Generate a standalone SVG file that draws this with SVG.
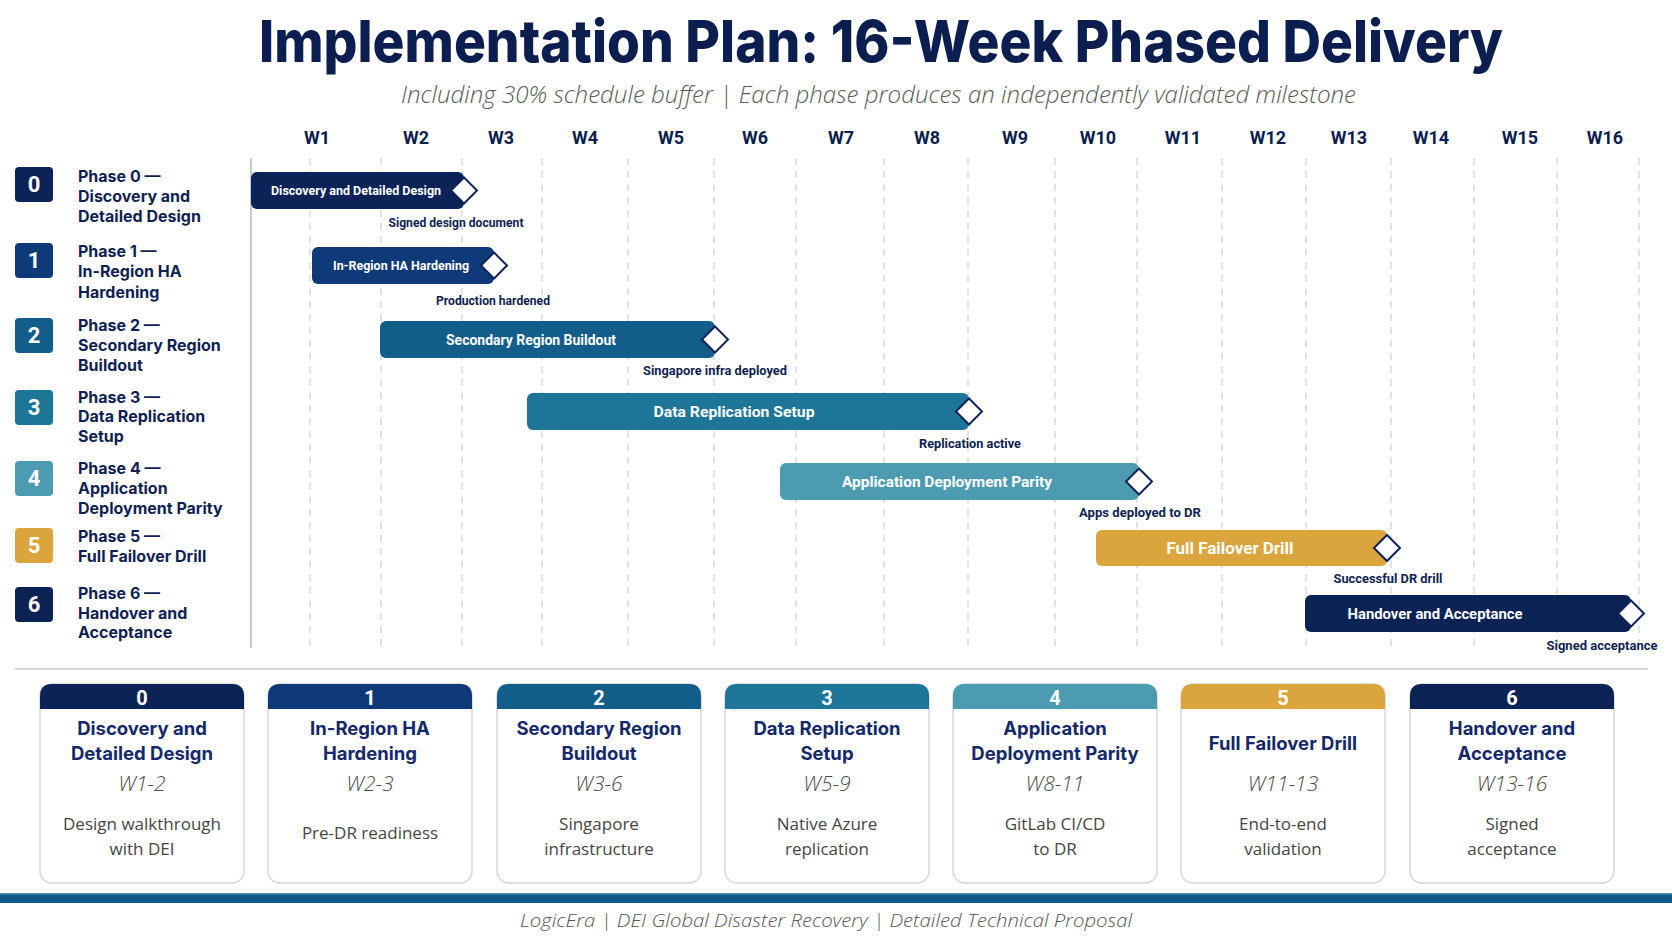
<svg xmlns="http://www.w3.org/2000/svg" width="1672" height="941" viewBox="0 0 1672 941">
<style>
.title{font-family:Inter,Roboto,"Liberation Sans",sans-serif;font-weight:800;font-size:58px;fill:#0c1e4f}
.sub{font-family:"Open Sans","Liberation Sans",sans-serif;font-style:italic;font-weight:300;font-size:24px;fill:#5a5a5a}
.wk{font-family:Roboto,"Liberation Sans",sans-serif;font-weight:700;font-size:18px;fill:#0c1e4f;text-anchor:middle}
.ph{font-family:Inter,Roboto,"Liberation Sans",sans-serif;font-weight:700;font-size:16px;fill:#0f1f52}
.badge{font-family:Roboto,"Liberation Sans",sans-serif;font-weight:700;font-size:22px;fill:#fff;text-anchor:middle}
.grid{stroke:#d4d4d4;stroke-width:1.3;stroke-dasharray:7 6}
.bl{font-family:Roboto,"Liberation Sans",sans-serif;font-weight:700;fill:#fff;text-anchor:middle}
.ms{font-family:Roboto,"Liberation Sans",sans-serif;font-weight:700;font-size:12px;fill:#0f1f52;text-anchor:middle}
.dia{fill:#fff;stroke:#0c2357;stroke-width:2}
.card{fill:#fff;stroke:#d6d6d6;stroke-width:1.5}
.cn{font-family:Roboto,"Liberation Sans",sans-serif;font-weight:700;font-size:20px;fill:#fff;text-anchor:middle}
.ct{font-family:Inter,Roboto,"Liberation Sans",sans-serif;font-weight:700;font-size:18.5px;fill:#14286a;text-anchor:middle}
.cw{font-family:"Open Sans","Liberation Sans",sans-serif;font-style:italic;font-weight:300;font-size:21px;fill:#4a4a4a;text-anchor:middle}
.cd{font-family:"Open Sans","Liberation Sans",sans-serif;font-weight:400;font-size:17px;fill:#454545;text-anchor:middle}
.foot{font-family:"Open Sans","Liberation Sans",sans-serif;font-style:italic;font-weight:300;font-size:19px;fill:#555;text-anchor:middle}
</style>
<rect width="1672" height="941" fill="#fff"/>
<g id="header">
<text class="title" x="259" y="62" textLength="1244" lengthAdjust="spacingAndGlyphs">Implementation Plan: 16-Week Phased Delivery</text>
<text class="sub" x="401" y="103" textLength="955" lengthAdjust="spacingAndGlyphs">Including 30% schedule buffer | Each phase produces an independently validated milestone</text>
</g>
<g id="weeks">
<text class="wk" x="317" y="144">W1</text>
<text class="wk" x="416" y="144">W2</text>
<text class="wk" x="501" y="144">W3</text>
<text class="wk" x="585" y="144">W4</text>
<text class="wk" x="671" y="144">W5</text>
<text class="wk" x="755" y="144">W6</text>
<text class="wk" x="841" y="144">W7</text>
<text class="wk" x="927" y="144">W8</text>
<text class="wk" x="1015" y="144">W9</text>
<text class="wk" x="1098" y="144">W10</text>
<text class="wk" x="1183" y="144">W11</text>
<text class="wk" x="1268" y="144">W12</text>
<text class="wk" x="1349" y="144">W13</text>
<text class="wk" x="1431" y="144">W14</text>
<text class="wk" x="1520" y="144">W15</text>
<text class="wk" x="1605" y="144">W16</text>
</g>
<g id="grid">
<line x1="251" y1="158" x2="251" y2="648" stroke="#c8c8c8" stroke-width="2"/>
<line class="grid" x1="310" y1="158" x2="310" y2="650"/>
<line class="grid" x1="381" y1="158" x2="381" y2="650"/>
<line class="grid" x1="462" y1="158" x2="462" y2="650"/>
<line class="grid" x1="542" y1="158" x2="542" y2="650"/>
<line class="grid" x1="628" y1="158" x2="628" y2="650"/>
<line class="grid" x1="714" y1="158" x2="714" y2="650"/>
<line class="grid" x1="796" y1="158" x2="796" y2="650"/>
<line class="grid" x1="884" y1="158" x2="884" y2="650"/>
<line class="grid" x1="968" y1="158" x2="968" y2="650"/>
<line class="grid" x1="1055" y1="158" x2="1055" y2="650"/>
<line class="grid" x1="1137" y1="158" x2="1137" y2="650"/>
<line class="grid" x1="1222" y1="158" x2="1222" y2="650"/>
<line class="grid" x1="1306" y1="158" x2="1306" y2="650"/>
<line class="grid" x1="1391" y1="158" x2="1391" y2="650"/>
<line class="grid" x1="1474" y1="158" x2="1474" y2="650"/>
<line class="grid" x1="1557" y1="158" x2="1557" y2="650"/>
<line class="grid" x1="1639" y1="158" x2="1639" y2="650"/>
</g>
<g id="phase-labels">
<g id="lbl0"><rect x="15" y="167" width="38" height="35" rx="4" fill="#0c2357"/><text class="badge" x="34" y="192">0</text>
<text class="ph" x="78" y="182">Phase 0 —</text><text class="ph" x="78" y="202">Discovery and</text><text class="ph" x="78" y="222">Detailed Design</text></g>
<g id="lbl1"><rect x="15" y="243" width="38" height="35" rx="4" fill="#0f3a7a"/><text class="badge" x="34" y="268">1</text>
<text class="ph" x="78" y="257">Phase 1 —</text><text class="ph" x="78" y="277">In-Region HA</text><text class="ph" x="78" y="298">Hardening</text></g>
<g id="lbl2"><rect x="15" y="318" width="38" height="35" rx="4" fill="#135d8b"/><text class="badge" x="34" y="343">2</text>
<text class="ph" x="78" y="331">Phase 2 —</text><text class="ph" x="78" y="351">Secondary Region</text><text class="ph" x="78" y="371">Buildout</text></g>
<g id="lbl3"><rect x="15" y="390" width="38" height="35" rx="4" fill="#1d7598"/><text class="badge" x="34" y="415">3</text>
<text class="ph" x="78" y="403">Phase 3 —</text><text class="ph" x="78" y="422">Data Replication</text><text class="ph" x="78" y="442">Setup</text></g>
<g id="lbl4"><rect x="15" y="461" width="38" height="35" rx="4" fill="#4c9bb1"/><text class="badge" x="34" y="486">4</text>
<text class="ph" x="78" y="474">Phase 4 —</text><text class="ph" x="78" y="494">Application</text><text class="ph" x="78" y="514">Deployment Parity</text></g>
<g id="lbl5"><rect x="15" y="528" width="38" height="35" rx="4" fill="#d9a53c"/><text class="badge" x="34" y="553">5</text>
<text class="ph" x="78" y="542">Phase 5 —</text><text class="ph" x="78" y="562">Full Failover Drill</text></g>
<g id="lbl6"><rect x="15" y="587" width="38" height="35" rx="4" fill="#0b2255"/><text class="badge" x="34" y="612">6</text>
<text class="ph" x="78" y="599">Phase 6 —</text><text class="ph" x="78" y="619">Handover and</text><text class="ph" x="78" y="638">Acceptance</text></g>
</g>
<g id="bars">
<g id="bar0"><rect x="251" y="172" width="213" height="37" rx="6" fill="#0c2357"/>
<text class="bl" x="356" y="195" font-size="13" textLength="170" lengthAdjust="spacingAndGlyphs">Discovery and Detailed Design</text>
<polygon class="dia" points="464,177.5 477,190.5 464,203.5 451,190.5"/>
<text class="ms" x="456" y="227" textLength="135" lengthAdjust="spacingAndGlyphs">Signed design document</text></g>
<g id="bar1"><rect x="312" y="247" width="182" height="37" rx="6" fill="#0f3a7a"/>
<text class="bl" x="401" y="270" font-size="13" textLength="136" lengthAdjust="spacingAndGlyphs">In-Region HA Hardening</text>
<polygon class="dia" points="494,252.5 507,265.5 494,278.5 481,265.5"/>
<text class="ms" x="493" y="305" textLength="114" lengthAdjust="spacingAndGlyphs">Production hardened</text></g>
<g id="bar2"><rect x="380" y="321" width="335" height="37" rx="6" fill="#135d8b"/>
<text class="bl" x="531" y="345" font-size="14.5" textLength="170" lengthAdjust="spacingAndGlyphs">Secondary Region Buildout</text>
<polygon class="dia" points="715,326.5 728,339.5 715,352.5 702,339.5"/>
<text class="ms" x="715" y="375" textLength="144" lengthAdjust="spacingAndGlyphs">Singapore infra deployed</text></g>
<g id="bar3"><rect x="527" y="393" width="442" height="37" rx="6" fill="#1d7598"/>
<text class="bl" x="734" y="417" font-size="15.5" textLength="161" lengthAdjust="spacingAndGlyphs">Data Replication Setup</text>
<polygon class="dia" points="969,398.5 982,411.5 969,424.5 956,411.5"/>
<text class="ms" x="970" y="448" textLength="102" lengthAdjust="spacingAndGlyphs">Replication active</text></g>
<g id="bar4"><rect x="780" y="463" width="359" height="37" rx="6" fill="#4c9bb1"/>
<text class="bl" x="947" y="487" font-size="15.5" textLength="210" lengthAdjust="spacingAndGlyphs">Application Deployment Parity</text>
<polygon class="dia" points="1139,468.5 1152,481.5 1139,494.5 1126,481.5"/>
<text class="ms" x="1140" y="517" textLength="122" lengthAdjust="spacingAndGlyphs">Apps deployed to DR</text></g>
<g id="bar5"><rect x="1096" y="530" width="291" height="36" rx="6" fill="#d9a53c"/>
<text class="bl" x="1230" y="554" font-size="16" textLength="127" lengthAdjust="spacingAndGlyphs">Full Failover Drill</text>
<polygon class="dia" points="1387,535 1400,548 1387,561 1374,548"/>
<text class="ms" x="1388" y="583" textLength="109" lengthAdjust="spacingAndGlyphs">Successful DR drill</text></g>
<g id="bar6"><rect x="1305" y="595" width="326" height="37" rx="6" fill="#0b2255"/>
<text class="bl" x="1435" y="619" font-size="15" textLength="175" lengthAdjust="spacingAndGlyphs">Handover and Acceptance</text>
<polygon class="dia" points="1631,600.5 1644,613.5 1631,626.5 1618,613.5"/>
<text class="ms" x="1602" y="650" textLength="111" lengthAdjust="spacingAndGlyphs">Signed acceptance</text></g>
</g>
<line x1="15" y1="669" x2="1648" y2="669" stroke="#d8d8d8" stroke-width="2"/>
<g id="cards">
<g id="card0"><rect class="card" x="40" y="684" width="204" height="199" rx="12"/>
<path d="M40,709 V696 Q40,684 52,684 H232 Q244,684 244,696 V709 Z" fill="#0c2357"/>
<text class="cn" x="142" y="705">0</text>
<text class="ct" x="142" y="735">Discovery and</text><text class="ct" x="142" y="760">Detailed Design</text>
<text class="cw" x="142" y="791">W1-2</text>
<text class="cd" x="142" y="830">Design walkthrough</text><text class="cd" x="142" y="855">with DEI</text></g>
<g id="card1"><rect class="card" x="268" y="684" width="204" height="199" rx="12"/>
<path d="M268,709 V696 Q268,684 280,684 H460 Q472,684 472,696 V709 Z" fill="#0f3a7a"/>
<text class="cn" x="370" y="705">1</text>
<text class="ct" x="370" y="735">In-Region HA</text><text class="ct" x="370" y="760">Hardening</text>
<text class="cw" x="370" y="791">W2-3</text>
<text class="cd" x="370" y="839">Pre-DR readiness</text></g>
<g id="card2"><rect class="card" x="497" y="684" width="204" height="199" rx="12"/>
<path d="M497,709 V696 Q497,684 509,684 H689 Q701,684 701,696 V709 Z" fill="#135d8b"/>
<text class="cn" x="599" y="705">2</text>
<text class="ct" x="599" y="735">Secondary Region</text><text class="ct" x="599" y="760">Buildout</text>
<text class="cw" x="599" y="791">W3-6</text>
<text class="cd" x="599" y="830">Singapore</text><text class="cd" x="599" y="855">infrastructure</text></g>
<g id="card3"><rect class="card" x="725" y="684" width="204" height="199" rx="12"/>
<path d="M725,709 V696 Q725,684 737,684 H917 Q929,684 929,696 V709 Z" fill="#1d7598"/>
<text class="cn" x="827" y="705">3</text>
<text class="ct" x="827" y="735">Data Replication</text><text class="ct" x="827" y="760">Setup</text>
<text class="cw" x="827" y="791">W5-9</text>
<text class="cd" x="827" y="830">Native Azure</text><text class="cd" x="827" y="855">replication</text></g>
<g id="card4"><rect class="card" x="953" y="684" width="204" height="199" rx="12"/>
<path d="M953,709 V696 Q953,684 965,684 H1145 Q1157,684 1157,696 V709 Z" fill="#4c9bb1"/>
<text class="cn" x="1055" y="705">4</text>
<text class="ct" x="1055" y="735">Application</text><text class="ct" x="1055" y="760">Deployment Parity</text>
<text class="cw" x="1055" y="791">W8-11</text>
<text class="cd" x="1055" y="830">GitLab CI/CD</text><text class="cd" x="1055" y="855">to DR</text></g>
<g id="card5"><rect class="card" x="1181" y="684" width="204" height="199" rx="12"/>
<path d="M1181,709 V696 Q1181,684 1193,684 H1373 Q1385,684 1385,696 V709 Z" fill="#d9a53c"/>
<text class="cn" x="1283" y="705">5</text>
<text class="ct" x="1283" y="750">Full Failover Drill</text>
<text class="cw" x="1283" y="791">W11-13</text>
<text class="cd" x="1283" y="830">End-to-end</text><text class="cd" x="1283" y="855">validation</text></g>
<g id="card6"><rect class="card" x="1410" y="684" width="204" height="199" rx="12"/>
<path d="M1410,709 V696 Q1410,684 1422,684 H1602 Q1614,684 1614,696 V709 Z" fill="#0b2255"/>
<text class="cn" x="1512" y="705">6</text>
<text class="ct" x="1512" y="735">Handover and</text><text class="ct" x="1512" y="760">Acceptance</text>
<text class="cw" x="1512" y="791">W13-16</text>
<text class="cd" x="1512" y="830">Signed</text><text class="cd" x="1512" y="855">acceptance</text></g>
</g>
<g id="footer">
<rect x="0" y="893" width="1672" height="10" fill="#0d5a88"/>
<rect x="0" y="893" width="1672" height="1.5" fill="#4a8fb5"/>
<text class="foot" x="826" y="927" textLength="612" lengthAdjust="spacingAndGlyphs">LogicEra | DEI Global Disaster Recovery | Detailed Technical Proposal</text>
</g>
</svg>
